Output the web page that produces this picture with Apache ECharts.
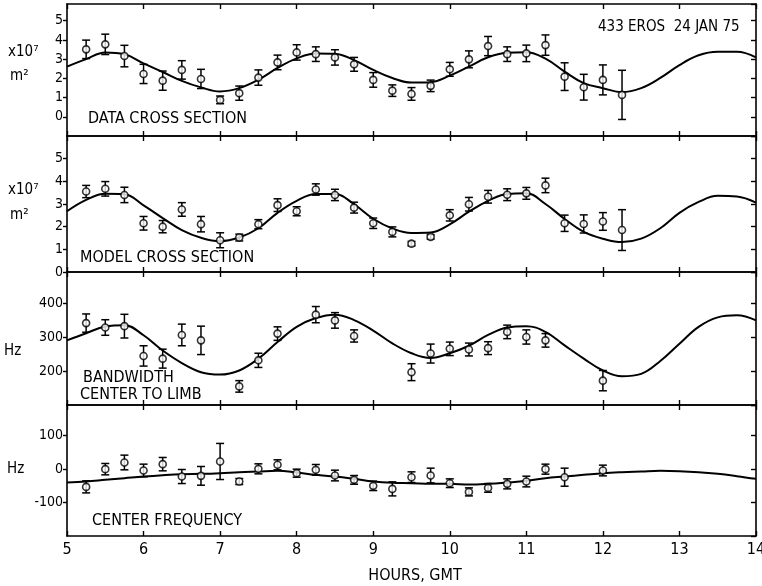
<!DOCTYPE html>
<html><head><meta charset="utf-8">
<script src="https://cdn.jsdelivr.net/npm/echarts@6/dist/echarts.min.js"></script>
<style>html,body{margin:0;padding:0;background:#fff}#c{width:762px;height:586px}</style>
</head><body><div id="c"></div>
<script>
// ---- Data ----
// Model curves are sampled every quarter hour from 5 to 14 GMT
const curveHours = [5,5.25,5.5,5.75,6,6.25,6.5,6.75,7,7.25,7.5,7.75,8,8.25,8.5,8.75,9,9.25,9.5,9.75,10,10.25,10.5,10.75,11,11.25,11.5,11.75,12,12.25,12.5,12.75,13,13.25,13.5,13.75,14];

// Panel 1: data cross section (x10^7 m^2)
const hours1 = [5.25,5.5,5.75,6,6.25,6.5,6.75,7,7.25,7.5,7.75,8,8.25,8.5,8.75,9,9.25,9.5,9.75,10,10.25,10.5,10.75,11,11.25,11.5,11.75,12,12.25];
const vals1  = [3.51,3.77,3.16,2.23,1.88,2.44,1.97,0.88,1.23,2.04,2.83,3.35,3.26,3.09,2.73,1.92,1.36,1.19,1.61,2.47,2.99,3.68,3.26,3.30,3.73,2.09,1.54,1.92,1.14];
const errs1  = [0.48,0.53,0.56,0.5,0.5,0.48,0.5,0.2,0.37,0.4,0.38,0.4,0.38,0.4,0.36,0.38,0.3,0.33,0.3,0.36,0.44,0.5,0.38,0.43,0.53,0.72,0.67,0.78,1.28];
const curve1 = [2.61,3.0,3.34,3.25,2.78,2.33,1.87,1.53,1.32,1.49,1.93,2.54,3.04,3.30,3.28,2.95,2.44,2.02,1.78,1.80,2.14,2.61,3.10,3.33,3.36,3.03,2.35,1.75,1.49,1.28,1.49,2.02,2.69,3.20,3.38,3.38,3.09];

// Panel 2: model cross section
const hours2 = [5.25,5.5,5.75,6,6.25,6.5,6.75,7,7.25,7.5,7.75,8,8.25,8.5,8.75,9,9.25,9.5,9.75,10,10.25,10.5,10.75,11,11.25,11.5,11.75,12,12.25];
const vals2  = [3.55,3.67,3.40,2.15,2.0,2.76,2.11,1.40,1.52,2.11,2.95,2.68,3.64,3.40,2.84,2.15,1.77,1.25,1.55,2.5,2.99,3.32,3.41,3.47,3.82,2.15,2.12,2.23,1.85];
const errs2  = [0.27,0.32,0.34,0.3,0.27,0.3,0.34,0.33,0.15,0.2,0.28,0.2,0.25,0.25,0.24,0.23,0.22,0.1,0.1,0.25,0.3,0.28,0.26,0.26,0.32,0.36,0.4,0.39,0.9];
const curve2 = [2.68,3.18,3.45,3.43,2.94,2.38,1.85,1.51,1.36,1.52,1.93,2.61,3.14,3.44,3.44,2.99,2.35,1.92,1.72,1.74,2.10,2.66,3.14,3.44,3.47,3.0,2.34,1.77,1.47,1.32,1.47,1.93,2.61,3.09,3.36,3.33,3.06];

// Panel 3: bandwidth center to limb (Hz)
const hours3 = [5.25,5.5,5.75,6,6.25,6.5,6.75,7.25,7.5,7.75,8.25,8.5,8.75,9.5,9.75,10,10.25,10.5,10.75,11,11.25,12];
const vals3  = [342,329,333,245,237,307,291,155,232,311,367,350,304,197,252,266,264,268,316,301,291,172];
const errs3  = [27,23,35,30,28,32,42,17,21,20,24,23,18,25,28,20,19,19,20,21,20,30];
const curve3 = [291,312,332,336,306,261,224,197,190,202,237,286,331,357,367,351,320,282,253,239,253,275,307,329,333,316,276,237,202,185,192,230,281,331,359,365,350];

// Panel 4: center frequency (Hz)
const hours4 = [5.25,5.5,5.75,6,6.25,6.5,6.75,7,7.25,7.5,7.75,8,8.25,8.5,8.75,9,9.25,9.5,9.75,10,10.25,10.5,10.75,11,11.25,11.5,12];
const vals4  = [-53,0,20,-4,15,-22,-20,23,-37,1,13,-12,-2,-19,-32,-50,-59,-24,-19,-42,-68,-56,-44,-37,0,-24,-4];
const errs4  = [18,17,22,19,20,21,28,54,9,15,15,12,16,16,13,14,21,16,22,13,12,13,15,16,15,27,16];
const curve4 = [-40,-37,-32,-27,-22,-18,-15,-14,-12,-9,-7,-5,-10,-17,-22,-29,-37,-41,-42,-44,-44,-46,-44,-40,-35,-27,-22,-17,-12,-9,-7,-5,-6,-9,-14,-21,-29];

// Axis ranges
const yMins = [-1, 0, 100, -200];
const yMaxs = [5.87, 6, 493, 192];
const yIntervals = [1, 1, 100, 100];

// ---- Layout ----
const FONT = "'Liberation Sans Narrow','DejaVu Sans Condensed',sans-serif";
const panelTops = [4, 136, 272, 405];
const panelHeights = [132, 136, 133, 131];

const panels = [
  {h: hours1, v: vals1, e: errs1, c: curve1},
  {h: hours2, v: vals2, e: errs2, c: curve2},
  {h: hours3, v: vals3, e: errs3, c: curve3},
  {h: hours4, v: vals4, e: errs4, c: curve4}
];

const grid = [], xAxis = [], yAxis = [], series = [];
const axisLine = {show: true, onZero: false, lineStyle: {color: '#000', width: 1.6}};
const tickStyle = {color: '#000', width: 1.4};

panels.forEach((p, i) => {
  grid.push({left: 67, right: 6, top: panelTops[i], height: panelHeights[i], containLabel: false, outerBoundsMode: 'none'});
  xAxis.push({type: 'value', gridIndex: i, min: 5, max: 14, interval: 1, position: 'bottom',
    axisLine: axisLine, axisTick: {show: true, inside: true, length: 5, lineStyle: tickStyle},
    axisLabel: {show: i === 3, color: '#000', fontFamily: FONT, fontSize: 16, margin: 6},
    splitLine: {show: false}});
  xAxis.push({type: 'value', gridIndex: i, min: 5, max: 14, interval: 1, position: 'top',
    axisLine: axisLine, axisTick: {show: true, inside: true, length: 5, lineStyle: tickStyle},
    axisLabel: {show: false}, splitLine: {show: false}});
  yAxis.push({type: 'value', gridIndex: i, min: yMins[i], max: yMaxs[i], interval: yIntervals[i], position: 'left',
    axisLine: axisLine, axisTick: {show: true, inside: false, length: 4, lineStyle: tickStyle},
    axisLabel: {color: '#000', fontFamily: FONT, fontSize: 14, margin: 4, showMinLabel: i === 1, showMaxLabel: false},
    splitLine: {show: false}});
  yAxis.push({type: 'value', gridIndex: i, min: yMins[i], max: yMaxs[i], interval: yIntervals[i], position: 'right',
    axisLine: axisLine, axisTick: {show: true, inside: true, length: 5, lineStyle: tickStyle},
    axisLabel: {show: false}, splitLine: {show: false}});

  series.push({type: 'line', xAxisIndex: 2 * i, yAxisIndex: 2 * i, smooth: 0.4, symbol: 'none',
    lineStyle: {color: '#000', width: 2}, data: curveHours.map((h, k) => [h, p.c[k]]), z: 2, silent: true});
  series.push({type: 'custom', xAxisIndex: 2 * i, yAxisIndex: 2 * i, z: 3,
    data: p.h.map((h, k) => [h, p.v[k] - p.e[k], p.v[k] + p.e[k]]),
    renderItem: function (params, api) {
      const x = api.value(0);
      const a = api.coord([x, api.value(2)]);
      const b = api.coord([x, api.value(1)]);
      const w = 4;
      const st = {stroke: '#000', lineWidth: 1.5};
      return {type: 'group', children: [
        {type: 'line', shape: {x1: a[0], y1: a[1], x2: b[0], y2: b[1]}, style: st},
        {type: 'line', shape: {x1: a[0] - w, y1: a[1], x2: a[0] + w, y2: a[1]}, style: st},
        {type: 'line', shape: {x1: b[0] - w, y1: b[1], x2: b[0] + w, y2: b[1]}, style: st}
      ]};
    }});
  series.push({type: 'scatter', xAxisIndex: 2 * i, yAxisIndex: 2 * i, z: 4, symbol: 'circle', symbolSize: 7,
    itemStyle: {color: '#fff', borderColor: '#000', borderWidth: 1.6},
    data: p.h.map((h, k) => [h, p.v[k]])});
});

const T = (x, y, s, size, align) => ({type: 'text', x: x, y: y,
  style: {text: s, fill: '#000', font: `${size}px ${FONT}`, textAlign: align || 'left', textVerticalAlign: 'middle'}});

const graphic = [
  T(598, 27, '433 EROS  24 JAN 75', 15),
  T(8, 52, 'x10\u2077', 15),
  T(10, 76, 'm\u00b2', 15),
  T(8, 190, 'x10\u2077', 15),
  T(10, 215, 'm\u00b2', 15),
  T(4, 351, 'Hz', 15),
  T(7, 469, 'Hz', 15),
  T(88, 119, 'DATA CROSS SECTION', 16),
  T(80, 258, 'MODEL CROSS SECTION', 16),
  T(83, 378, 'BANDWIDTH', 16),
  T(80, 395, 'CENTER TO LIMB', 16),
  T(92, 521, 'CENTER FREQUENCY', 16),
  T(415, 576, 'HOURS, GMT', 16, 'center')
];

const chart = echarts.init(document.getElementById('c'), null, {renderer: 'canvas'});
chart.setOption({animation: false, backgroundColor: '#fff', grid, xAxis, yAxis, series, graphic});
</script></body></html>
